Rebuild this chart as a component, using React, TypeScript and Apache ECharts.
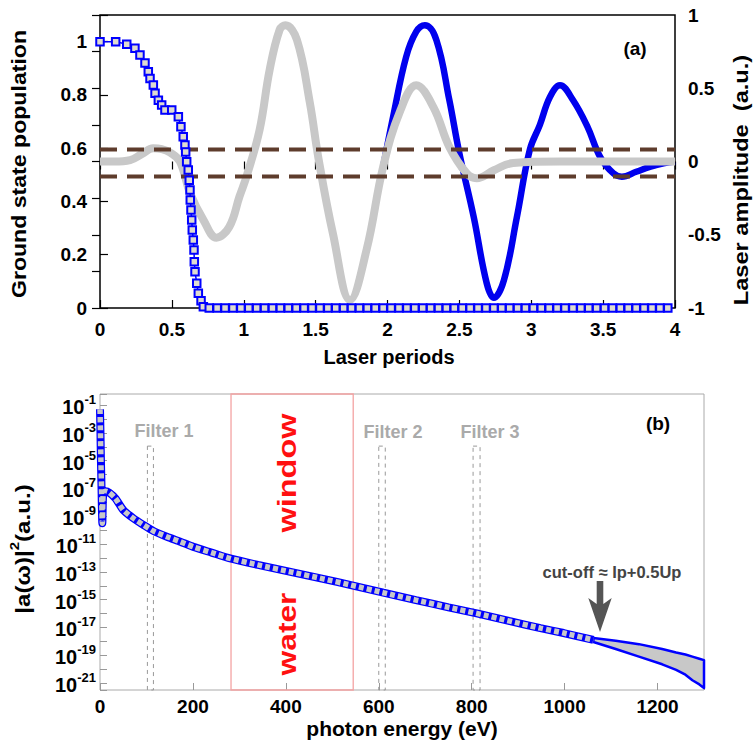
import React, { useEffect, useRef } from 'react';
import * as echarts from 'echarts';

const FONT = '"Liberation Sans", Arial, Helvetica, sans-serif';

// ---------------- Panel (a) ----------------
// gray laser field (right axis, a.u.)
const grayLaserT = [0, 0.1, 0.21, 0.29, 0.37, 0.43, 0.49, 0.556, 0.626, 0.72, 0.81, 0.9, 0.97, 1.02, 1.11, 1.18, 1.25, 1.29, 1.37, 1.46, 1.52, 1.62, 1.74, 1.855, 1.97, 2.09, 2.2, 2.32, 2.43, 2.55, 2.62, 2.74, 2.875, 3.2, 3.6, 4.0];
const grayLaserV = [0, 0.0, 0.01, 0.05, 0.09, 0.085, 0.06, 0.0, -0.215, -0.4, -0.52, -0.445, -0.24, -0.1, 0.215, 0.625, 0.9, 0.93, 0.83, 0.4, 0.02, -0.49, -0.945, -0.6, -0.035, 0.35, 0.52, 0.37, 0.1, -0.08, -0.115, -0.06, -0.01, 0, 0, 0];

// blue laser field (right axis, a.u.), visible where it leaves the gray one
const blueLaserT = [1.97, 2.04, 2.13, 2.2, 2.26, 2.34, 2.43, 2.5, 2.6, 2.69, 2.74, 2.81, 2.9, 2.99, 3.06, 3.13, 3.2, 3.29, 3.39, 3.48, 3.57, 3.63, 3.73, 3.83, 3.92, 4.0];
const blueLaserV = [-0.035, 0.31, 0.715, 0.886, 0.93, 0.83, 0.42, 0.056, -0.38, -0.83, -0.93, -0.81, -0.38, 0.08, 0.25, 0.44, 0.52, 0.42, 0.24, 0.03, -0.08, -0.104, -0.07, -0.035, -0.012, 0];

// ground state population (left axis)
const popT = [0, 0.109, 0.186, 0.243, 0.278, 0.313, 0.336, 0.348, 0.371, 0.383, 0.406, 0.429, 0.452, 0.499, 0.545, 0.563, 0.579, 0.591, 0.596, 0.603, 0.614, 0.621, 0.626, 0.628, 0.633, 0.638, 0.642, 0.649, 0.654, 0.656, 0.661, 0.673, 0.684, 0.703, 0.719,
  0.76, 0.815, 0.87, 0.925, 0.98, 1.035, 1.09, 1.145, 1.2, 1.255, 1.31, 1.365, 1.42, 1.475, 1.53, 1.585, 1.64, 1.695, 1.75, 1.805, 1.86, 1.915, 1.97, 2.025, 2.08, 2.135, 2.19, 2.245, 2.3, 2.355, 2.41, 2.465, 2.52, 2.575, 2.63, 2.685, 2.74, 2.795, 2.85, 2.905, 2.96, 3.015, 3.07, 3.125, 3.18, 3.235, 3.29, 3.345, 3.4, 3.455, 3.51, 3.565, 3.62, 3.675, 3.73, 3.785, 3.84, 3.895, 3.95];
const popV = [1, 1, 0.99, 0.975, 0.95, 0.92, 0.887, 0.862, 0.837, 0.806, 0.78, 0.762, 0.743, 0.743, 0.718, 0.68, 0.643, 0.612, 0.586, 0.549, 0.518, 0.48, 0.443, 0.405, 0.368, 0.33, 0.293, 0.255, 0.218, 0.174, 0.136, 0.093, 0.055, 0.027, 0.005,
  0, 0, 0, 0, 0, 0, 0, 0, 0, 0, 0, 0, 0, 0, 0, 0, 0, 0, 0, 0, 0, 0, 0, 0, 0, 0, 0, 0, 0, 0, 0, 0, 0, 0, 0, 0, 0, 0, 0, 0, 0, 0, 0, 0, 0, 0, 0, 0, 0, 0, 0, 0, 0, 0, 0, 0, 0, 0, 0];

// horizontal dashed thresholds (left axis values)
const thresholds = [0.595, 0.494];

// ---------------- Panel (b) ----------------
// harmonic spectrum: photon energy (eV) and log10 |a(w)|^2
const specEnergy = [0, 1, 2, 3, 5, 7, 12, 20, 33, 50, 72, 94, 115, 144, 173, 201, 240, 280, 340, 410, 480, 540, 610, 680, 750, 811, 880, 948, 998, 1062];
const specLog10 = [-1.3, -3.0, -5.0, -6.5, -9.5, -7.3, -7.2, -7.3, -7.7, -8.55, -9.15, -9.63, -10.06, -10.47, -10.83, -11.2, -11.61, -12.03, -12.5, -13.0, -13.5, -13.95, -14.5, -15.03, -15.55, -15.99, -16.53, -17.05, -17.4, -17.9];

// high-energy noisy band (lower / upper envelope, log10)
const bandEnergy = [1062, 1110, 1160, 1210, 1240, 1260, 1275, 1290, 1300];
const bandLow = [-18.05, -18.55, -19.1, -19.65, -20.05, -20.4, -20.8, -21.1, -21.35];
const bandHigh = [-17.75, -17.95, -18.2, -18.55, -18.8, -18.95, -19.1, -19.25, -19.35];

// regions (eV)
const waterWindow = [282, 545];
const filters = [
  { name: 'Filter 1', from: 102, to: 115 },
  { name: 'Filter 2', from: 600, to: 614 },
  { name: 'Filter 3', from: 803, to: 818 },
];
const filterTopLog10 = -3.95;

const xTicksA = { min: 0, max: 4, interval: 0.5 };
const xTicksB = { min: 0, max: 1300, interval: 200 };

function zip(a: number[], b: number[]) {
  return a.map((v, i) => [v, b[i]]);
}

const boldLabel = { fontSize: 19, fontWeight: 'bold', color: '#000', fontFamily: FONT };

export default function App() {
  const ref = useRef<HTMLDivElement>(null);
  useEffect(() => {
    const chart = echarts.init(ref.current!, null, { renderer: 'svg' });
    const tickA = { show: true, inside: true, length: 8, lineStyle: { color: '#000', width: 1.2 } };
    const tickB = { show: true, inside: true, length: 7, lineStyle: { color: '#999', width: 1 } };

    const option: any = {
      animation: false,
      backgroundColor: '#fff',
      grid: [
        { left: 100, top: 15, width: 575, height: 293, show: true, borderColor: '#000', borderWidth: 1.5, backgroundColor: 'transparent' },
        { left: 100, top: 394, width: 604, height: 296, show: true, borderColor: '#aaa', borderWidth: 1, backgroundColor: 'transparent' },
      ],
      xAxis: [
        { gridIndex: 0, type: 'value', ...xTicksA, position: 'bottom', axisLine: { show: false }, axisTick: tickA, splitLine: { show: false },
          axisLabel: { ...boldLabel, margin: 12, formatter: (v: number) => String(v) } },
        { gridIndex: 0, type: 'value', ...xTicksA, position: 'top', axisLine: { show: false }, axisTick: tickA, splitLine: { show: false }, axisLabel: { show: false } },
        { gridIndex: 1, type: 'value', ...xTicksB, position: 'bottom', axisLine: { show: false }, axisTick: tickB, splitLine: { show: false },
          axisLabel: { ...boldLabel, margin: 7, formatter: (v: number) => (v % 200 === 0 ? String(v) : '') } },
      ],
      yAxis: [
        { gridIndex: 0, type: 'value', min: 0, max: 1.1, interval: 0.2, position: 'left', axisLine: { show: false }, axisTick: tickA, splitLine: { show: false },
          axisLabel: { ...boldLabel, margin: 13, formatter: (v: number) => (v > 1.05 ? '' : String(+v.toFixed(1))) } },
        { gridIndex: 0, type: 'value', min: -1, max: 1, interval: 0.25, position: 'right', axisLine: { show: false }, axisTick: tickA, splitLine: { show: false },
          axisLabel: { ...boldLabel, margin: 13, formatter: (v: number) => (Math.abs(v * 2 - Math.round(v * 2)) < 1e-6 ? String(v) : '') } },
        { gridIndex: 1, type: 'value', min: -21.5, max: -0.2, splitNumber: 21, position: 'left', axisLine: { show: false }, axisTick: tickB, splitLine: { show: false },
          axisLabel: {
            margin: 4,
            formatter: (v: number) => {
              const r = Math.round(v);
              if (Math.abs(v - r) > 1e-6 || r % 2 === 0) return '';
              return `{b|10}{s|${r}}`;
            },
            rich: {
              b: { fontSize: 20, fontWeight: 'bold', color: '#000', fontFamily: FONT, lineHeight: 24, verticalAlign: 'bottom' },
              s: { fontSize: 13, fontWeight: 'bold', color: '#000', fontFamily: FONT, lineHeight: 12, verticalAlign: 'top' },
            },
          } },
      ],
      series: [
        { name: 'laser blue', type: 'line', xAxisIndex: 0, yAxisIndex: 1, data: zip(blueLaserT, blueLaserV), smooth: 0.4, showSymbol: false, symbol: 'none',
          lineStyle: { color: '#0000ee', width: 6.5 } },
        { name: 'laser gray', type: 'line', xAxisIndex: 0, yAxisIndex: 1, data: zip(grayLaserT, grayLaserV), smooth: 0.4, showSymbol: false, symbol: 'none',
          lineStyle: { color: '#c8c8c8', width: 8 } },
        { name: 'population', type: 'line', xAxisIndex: 0, yAxisIndex: 0, data: zip(popT, popV), clip: false,
          symbol: 'rect', symbolSize: 7.5, itemStyle: { color: '#dedbd0', borderColor: '#0000ff', borderWidth: 2 },
          lineStyle: { color: '#0000ff', width: 1.5 } },
        ...thresholds.map((t, i) => ({
          name: 'threshold' + i, type: 'line', xAxisIndex: 0, yAxisIndex: 0, data: [[xTicksA.min, t], [xTicksA.max, t]], symbol: 'none',
          lineStyle: { color: '#5e3c2c', width: 4, type: [17, 10] },
        })),
        { name: 'spectrum blue', type: 'line', xAxisIndex: 2, yAxisIndex: 2, data: zip(specEnergy, specLog10), smooth: 0.2, symbol: 'none',
          lineStyle: { color: '#0000ff', width: 8 },
          markArea: {
            silent: true,
            data: [
              [{ xAxis: waterWindow[0], itemStyle: { color: 'rgba(0,0,0,0)', borderColor: '#f4a3a3', borderWidth: 1.3 } }, { xAxis: waterWindow[1] }],
              ...filters.map((f) => [
                { coord: [f.from, filterTopLog10], itemStyle: { color: 'rgba(0,0,0,0)', borderColor: '#999', borderWidth: 1, borderType: [4, 4] } },
                { coord: [f.to, -21.5] },
              ]),
            ],
          } },
        { name: 'spectrum gray', type: 'line', xAxisIndex: 2, yAxisIndex: 2, data: zip(specEnergy, specLog10), smooth: 0.2, symbol: 'none',
          lineStyle: { color: '#c8c8c8', width: 5.5, type: [5, 3] } },
        { name: 'band', type: 'custom', coordinateSystem: 'cartesian2d', xAxisIndex: 2, yAxisIndex: 2,
          data: [[bandEnergy[0], bandLow[0]]],
          renderItem: (_params: any, api: any) => {
            const pts: number[][] = [];
            for (let i = 0; i < bandEnergy.length; i++) pts.push(api.coord([bandEnergy[i], bandHigh[i]]));
            for (let i = bandEnergy.length - 1; i >= 0; i--) pts.push(api.coord([bandEnergy[i], bandLow[i]]));
            return { type: 'polygon', shape: { points: pts }, style: { fill: '#c8c8c8', stroke: '#0000ff', lineWidth: 2.5, lineJoin: 'round' } };
          } },
      ],
      graphic: [
        { type: 'text', x: 389, y: 357, style: { text: 'Laser periods', font: `bold 20px ${FONT}`, fill: '#000', align: 'center', verticalAlign: 'middle' } },
        { type: 'text', x: 19, y: 164, rotation: Math.PI / 2, scaleX: 1.1, style: { text: 'Ground state population', font: `bold 21px ${FONT}`, fill: '#000', align: 'center', verticalAlign: 'middle' } },
        { type: 'text', x: 741, y: 180, rotation: Math.PI / 2, scaleX: 1.18, style: { text: 'Laser amplitude  (a.u.)', font: `bold 20px ${FONT}`, fill: '#000', align: 'center', verticalAlign: 'middle' } },
        { type: 'text', x: 635, y: 48, style: { text: '(a)', font: `bold 19px ${FONT}`, fill: '#000', align: 'center', verticalAlign: 'middle' } },
        { type: 'text', x: 658, y: 423, style: { text: '(b)', font: `bold 19px ${FONT}`, fill: '#000', align: 'center', verticalAlign: 'middle' } },
        { type: 'text', x: 402, y: 728, style: { text: 'photon energy (eV)', font: `bold 21px ${FONT}`, fill: '#000', align: 'center', verticalAlign: 'middle' } },
        { type: 'text', x: 21, y: 549, rotation: Math.PI / 2, scaleX: 1.15,
          style: { text: '{n||a(ω)|}{s|2}{n|(a.u.)}', align: 'center', verticalAlign: 'middle',
            rich: { n: { font: `bold 21px ${FONT}`, fill: '#000', lineHeight: 26, verticalAlign: 'bottom' }, s: { font: `bold 13px ${FONT}`, fill: '#000', lineHeight: 14, verticalAlign: 'top' } } } },
        { type: 'text', x: 164, y: 431, style: { text: filters[0].name, font: `bold 18px ${FONT}`, fill: '#aaa', align: 'center', verticalAlign: 'middle' } },
        { type: 'text', x: 393, y: 432, style: { text: filters[1].name, font: `bold 18px ${FONT}`, fill: '#aaa', align: 'center', verticalAlign: 'middle' } },
        { type: 'text', x: 490, y: 432, style: { text: filters[2].name, font: `bold 18px ${FONT}`, fill: '#aaa', align: 'center', verticalAlign: 'middle' } },
        { type: 'text', x: 287, y: 473, rotation: Math.PI / 2, scaleX: 1.25, style: { text: 'window', font: `bold 26px ${FONT}`, fill: '#ff1010', align: 'center', verticalAlign: 'middle' } },
        { type: 'text', x: 287, y: 634, rotation: Math.PI / 2, scaleX: 1.22, style: { text: 'water', font: `bold 26px ${FONT}`, fill: '#ff1010', align: 'center', verticalAlign: 'middle' } },
        { type: 'text', x: 612, y: 572, style: { text: 'cut-off ≈ Ip+0.5Up', font: `bold 16.5px ${FONT}`, fill: '#444', align: 'center', verticalAlign: 'middle' } },
        { type: 'polygon', shape: { points: [[596.7, 581], [603.3, 581], [603.3, 604], [611.7, 598], [600, 632], [588.3, 598], [596.7, 604]] }, style: { fill: '#555' } },
      ],
    };
    chart.setOption(option);
    return () => chart.dispose();
  }, []);
  return <div ref={ref} style={{ position: 'absolute', left: 0, top: 0, width: 755, height: 741, background: '#fff' }} />;
}
